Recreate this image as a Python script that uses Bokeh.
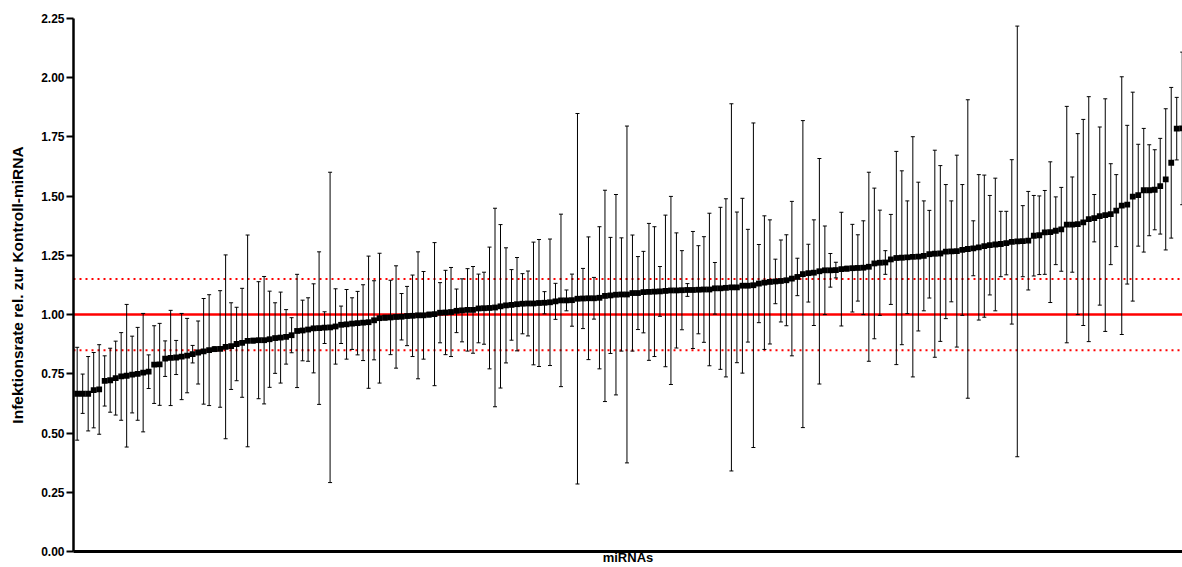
from bokeh.plotting import figure
from bokeh.models import Range1d, FixedTicker, NumeralTickFormatter, Span, ColumnDataSource
from bokeh.embed import file_html
from bokeh.resources import INLINE

# ---- data (sorted by value) ----
mean = [
    0.666, 0.666, 0.666, 0.681, 0.684, 0.720, 0.723, 0.732, 0.739, 0.742,
    0.747, 0.750, 0.755, 0.759, 0.789, 0.790, 0.814, 0.817, 0.819, 0.823,
    0.827, 0.833, 0.840, 0.845, 0.850, 0.854, 0.855, 0.864, 0.867, 0.876,
    0.881, 0.889, 0.890, 0.892, 0.892, 0.896, 0.901, 0.903, 0.906, 0.913,
    0.931, 0.933, 0.937, 0.942, 0.943, 0.945, 0.946, 0.950, 0.957, 0.959,
    0.962, 0.964, 0.966, 0.968, 0.976, 0.985, 0.987, 0.988, 0.990, 0.991,
    0.994, 0.995, 0.997, 0.997, 1.000, 1.002, 1.008, 1.009, 1.011, 1.016,
    1.018, 1.020, 1.020, 1.026, 1.027, 1.028, 1.030, 1.035, 1.039, 1.041,
    1.044, 1.046, 1.047, 1.047, 1.049, 1.050, 1.052, 1.056, 1.060, 1.060,
    1.061, 1.067, 1.068, 1.069, 1.069, 1.071, 1.079, 1.081, 1.084, 1.085,
    1.085, 1.091, 1.091, 1.095, 1.096, 1.097, 1.098, 1.100, 1.102, 1.102,
    1.103, 1.104, 1.104, 1.105, 1.106, 1.106, 1.111, 1.111, 1.113, 1.115,
    1.115, 1.122, 1.122, 1.124, 1.131, 1.135, 1.138, 1.140, 1.142, 1.145,
    1.152, 1.159, 1.171, 1.175, 1.177, 1.183, 1.187, 1.187, 1.188, 1.192,
    1.194, 1.196, 1.197, 1.198, 1.202, 1.216, 1.219, 1.220, 1.233, 1.239,
    1.240, 1.242, 1.244, 1.245, 1.248, 1.255, 1.257, 1.258, 1.266, 1.267,
    1.268, 1.273, 1.277, 1.280, 1.284, 1.289, 1.293, 1.296, 1.298, 1.302,
    1.307, 1.309, 1.310, 1.312, 1.333, 1.335, 1.347, 1.348, 1.354, 1.360,
    1.380, 1.380, 1.382, 1.389, 1.403, 1.407, 1.416, 1.420, 1.424, 1.439,
    1.460, 1.464, 1.498, 1.504, 1.525, 1.525, 1.527, 1.542, 1.571, 1.641,
    1.785, 1.786,
]

sd = [
    0.196, 0.083, 0.157, 0.159, 0.189, 0.106, 0.135, 0.156, 0.185, 0.301,
    0.162, 0.196, 0.250, 0.071, 0.164, 0.173, 0.075, 0.201, 0.072, 0.182,
    0.157, 0.037, 0.133, 0.223, 0.234, 0.010, 0.246, 0.388, 0.183, 0.155,
    0.230, 0.447, 0.010, 0.247, 0.269, 0.203, 0.149, 0.192, 0.115, 0.074,
    0.239, 0.128, 0.134, 0.188, 0.322, 0.067, 0.655, 0.159, 0.079, 0.147,
    0.109, 0.134, 0.160, 0.279, 0.167, 0.274, 0.010, 0.157, 0.216, 0.098,
    0.125, 0.172, 0.268, 0.185, 0.010, 0.302, 0.127, 0.178, 0.188, 0.092,
    0.133, 0.174, 0.183, 0.145, 0.152, 0.257, 0.419, 0.345, 0.243, 0.149,
    0.197, 0.127, 0.137, 0.259, 0.268, 0.047, 0.267, 0.076, 0.364, 0.044,
    0.110, 0.782, 0.127, 0.259, 0.088, 0.300, 0.446, 0.245, 0.423, 0.239,
    0.711, 0.245, 0.154, 0.172, 0.289, 0.274, 0.105, 0.320, 0.397, 0.243,
    0.167, 0.027, 0.247, 0.186, 0.223, 0.322, 0.109, 0.342, 0.376, 0.775,
    0.318, 0.369, 0.238, 0.685, 0.165, 0.282, 0.262, 0.094, 0.173, 0.192,
    0.326, 0.079, 0.648, 0.122, 0.223, 0.476, 0.187, 0.071, 0.033, 0.240,
    0.010, 0.185, 0.140, 0.198, 0.399, 0.318, 0.222, 0.050, 0.190, 0.450,
    0.367, 0.238, 0.507, 0.314, 0.232, 0.185, 0.437, 0.371, 0.283, 0.213,
    0.405, 0.276, 0.630, 0.116, 0.307, 0.300, 0.210, 0.280, 0.138, 0.134,
    0.347, 0.909, 0.150, 0.208, 0.170, 0.166, 0.177, 0.297, 0.143, 0.177,
    0.499, 0.201, 0.382, 0.435, 0.517, 0.100, 0.376, 0.491, 0.213, 0.152,
    0.544, 0.335, 0.441, 0.215, 0.261, 0.192, 0.169, 0.202, 0.298, 0.318,
    0.132, 0.322,
]

y_ticks = [0.0, 0.25, 0.5, 0.75, 1.0, 1.25, 1.5, 1.75, 2.0, 2.25]
control_level = 1.0
threshold_levels = [0.85, 1.15]
x_label = "miRNAs"
y_label = "Infektionsrate rel. zur Kontroll-miRNA"

# ---- build ----
n = len(mean)
xs = list(range(n))
lo = [m - s for m, s in zip(mean, sd)]
hi = [m + s for m, s in zip(mean, sd)]
src = ColumnDataSource(dict(x=xs, m=mean, lo=lo, hi=hi))

x_start, x_end = -0.67, (n - 1) + 0.05
FONT = "Liberation Sans"

p = figure(width=1182, height=567,
           x_range=Range1d(x_start, x_end), y_range=Range1d(0, 2.25),
           output_backend="svg", toolbar_location=None,
           min_border_left=73, min_border_right=0,
           min_border_top=18, min_border_bottom=16)
p.grid.visible = False
p.outline_line_color = None
p.background_fill_color = "white"
p.border_fill_color = "white"

# reference lines
p.add_layout(Span(location=control_level, dimension="width",
                  line_color="#ff0000", line_width=2.5, level="underlay"))
for t in threshold_levels:
    p.add_layout(Span(location=t, dimension="width", line_color="#ff0000",
                      line_width=2, line_dash="2 4", level="underlay"))

# error bars
p.segment(x0="x", y0="lo", x1="x", y1="hi", source=src,
          line_color="black", line_width=1)
p.scatter("x", "hi", source=src, marker="dash", size=4,
          line_color="black", line_width=1)
p.scatter("x", "lo", source=src, marker="dash", size=4,
          line_color="black", line_width=1)
# means
p.scatter("x", "m", source=src, marker="square", size=5.8,
          fill_color="black", line_color=None)

# y axis
ya = p.yaxis[0]
ya.ticker = FixedTicker(ticks=y_ticks)
ya.formatter = NumeralTickFormatter(format="0.00")
ya.major_label_text_font = FONT
ya.major_label_text_font_style = "bold"
ya.major_label_text_font_size = "12px"
ya.major_label_text_color = "black"
ya.major_label_standoff = 2
ya.major_tick_out = 7
ya.major_tick_in = 0
ya.minor_tick_out = 0
ya.minor_tick_in = 0
ya.major_tick_line_width = 2
ya.major_tick_line_color = "black"
ya.axis_line_width = 2.5
ya.axis_line_color = "black"
ya.axis_label = y_label
ya.axis_label_text_font = FONT
ya.axis_label_text_font_style = "bold"
ya.axis_label_text_font_size = "15.5px"
ya.axis_label_text_color = "black"
ya.axis_label_standoff = 12

# x axis: no ticks, bold label
xa = p.xaxis[0]
xa.ticker = FixedTicker(ticks=[])
xa.major_label_standoff = 0
xa.major_tick_out = 0
xa.major_tick_in = 0
xa.minor_tick_out = 0
xa.minor_tick_in = 0
xa.axis_line_width = 3
xa.axis_line_color = "black"
xa.axis_label = x_label
xa.axis_label_text_font = FONT
xa.axis_label_text_font_style = "bold"
xa.axis_label_text_font_size = "13px"
xa.axis_label_text_color = "black"
xa.axis_label_standoff = -2

open("out.html", "w").write(file_html(p, INLINE))
